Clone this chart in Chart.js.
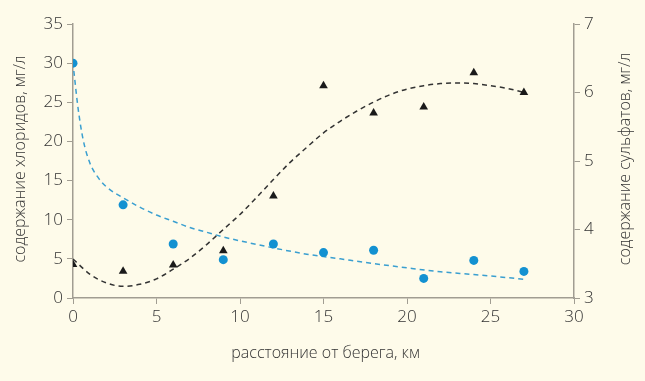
<!DOCTYPE html>
<html>
<head>
<meta charset="utf-8">
<script src="https://cdn.jsdelivr.net/npm/chart.js@4"></script>
<style>
  html, body { margin: 0; padding: 0; background: #fefbea; }
  #wrap { width: 645px; height: 381px; position: relative; }
</style>
</head>
<body>
<div id="wrap"><canvas id="c" width="645" height="381"></canvas></div>
<script>
// Measured distances (km)
const distances = [0, 3, 6, 9, 12, 15, 18, 21, 24, 27];
// Chloride content, mg/l (left axis)
const chlorides = [30, 11.9, 6.9, 4.9, 6.9, 5.8, 6.1, 2.5, 4.8, 3.4];
// Sulfate content, mg/l (right axis)
const sulfates = [3.49, 3.39, 3.48, 3.69, 4.49, 6.1, 5.7, 5.79, 6.29, 6.0];

// Chloride trend line
const chlorTrendX = [0.05, 0.3, 0.6, 1, 1.5, 2, 3, 4, 5, 6, 7, 8, 9, 10, 12, 14, 16, 18, 20, 22, 24, 27];
const chlorTrendY = [29, 24.3, 20.3, 17.3, 15.4, 14.2, 12.8, 11.6, 10.6, 9.8, 9.0, 8.4, 7.8, 7.3, 6.4, 5.6, 5.0, 4.4, 3.85, 3.35, 3.0, 2.4];

// Sulfate trend line
const sulfTrendX = [0, 1, 2, 3, 4, 5, 6, 7, 8, 9, 10, 11, 12, 13, 14, 15, 16, 17, 18, 19, 20, 21, 22, 23, 24, 25, 26, 27];
const sulfTrendY = [3.57, 3.35, 3.22, 3.17, 3.2, 3.28, 3.42, 3.58, 3.78, 4.0, 4.22, 4.47, 4.73, 4.98, 5.2, 5.41, 5.58, 5.73, 5.86, 5.97, 6.05, 6.1, 6.13, 6.14, 6.13, 6.1, 6.06, 6.0];

// Axis ticks / titles
const xTicks = [0, 5, 10, 15, 20, 25, 30];
const yLeftTicks = [0, 5, 10, 15, 20, 25, 30, 35];
const yRightTicks = [3, 4, 5, 6, 7];
const xTitle = 'расстояние от берега, км';
const yLeftTitle = 'содержание хлоридов, мг/л';
const yRightTitle = 'содержание сульфатов, мг/л';

const pts = (xs, ys) => xs.map((x, i) => ({x: x, y: ys[i]}));

const FONT = '"Open Sans", "Noto Sans", sans-serif';
const TXT = '#333333';
const AXIS = '#a19d92';
const BLUE = '#1391d1';
const BLUE_LINE = '#3a9fd0';

const bg = {
  id: 'bg',
  beforeDraw(chart) {
    const c = chart.ctx;
    c.save();
    c.fillStyle = '#fefbea';
    c.fillRect(0, 0, chart.width, chart.height);
    c.restore();
  }
};

const titles = {
  id: 'titles',
  afterDraw(chart) {
    const c = chart.ctx;
    const a = chart.chartArea;
    const f = '300 16px ' + FONT;
    c.save();
    c.fillStyle = TXT;
    c.font = f;
    c.textAlign = 'center';
    c.textBaseline = 'middle';
    c.fillText(xTitle, (a.left + a.right) / 2 + 2, 353);
    c.translate(20, (a.top + a.bottom) / 2 - 2);
    c.rotate(-Math.PI / 2);
    c.fillText(yLeftTitle, 0, 0);
    c.restore();
    c.save();
    c.fillStyle = TXT;
    c.font = f;
    c.textAlign = 'center';
    c.textBaseline = 'middle';
    c.translate(625, (a.top + a.bottom) / 2 - 2);
    c.rotate(-Math.PI / 2);
    c.fillText(yRightTitle, 0, 0);
    c.restore();
  }
};

const tickFont = { family: FONT, size: 17, weight: 300 };

new Chart(document.getElementById('c'), {
  type: 'scatter',
  data: {
    datasets: [
      {
        data: pts(chlorTrendX, chlorTrendY),
        showLine: true,
        borderColor: BLUE_LINE,
        borderWidth: 1.5,
        borderDash: [5, 4],
        pointRadius: 0,
        cubicInterpolationMode: 'monotone',
        yAxisID: 'y',
        order: 3
      },
      {
        data: pts(sulfTrendX, sulfTrendY),
        showLine: true,
        borderColor: '#333333',
        borderWidth: 1.5,
        borderDash: [5, 4],
        pointRadius: 0,
        cubicInterpolationMode: 'monotone',
        yAxisID: 'y2',
        order: 2
      },
      {
        data: pts(distances, chlorides),
        pointRadius: 4.5,
        pointBackgroundColor: BLUE,
        pointBorderWidth: 0,
        borderColor: BLUE,
        yAxisID: 'y',
        order: 1
      },
      {
        data: pts(distances, sulfates),
        pointStyle: 'triangle',
        pointRadius: 5,
        pointBackgroundColor: '#1a1a1a',
        pointBorderWidth: 0,
        borderColor: '#1a1a1a',
        yAxisID: 'y2',
        order: 0
      }
    ]
  },
  options: {
    responsive: false,
    animation: false,
    devicePixelRatio: 1,
    layout: { padding: { top: 24, left: 0, right: 0, bottom: 0 } },
    plugins: { legend: { display: false }, tooltip: { enabled: false } },
    scales: {
      x: {
        type: 'linear',
        min: 0, max: 30,
        afterBuildTicks(s) { s.ticks = xTicks.map(v => ({value: v})); },
        afterFit(s) { s.height = 83; },
        grid: { drawOnChartArea: false, tickLength: 6, color: AXIS },
        border: { display: true, color: AXIS, width: 1.5 },
        ticks: { font: tickFont, color: TXT, padding: 3, maxRotation: 0 }
      },
      y: {
        position: 'left',
        min: 0, max: 35,
        afterBuildTicks(s) { s.ticks = yLeftTicks.map(v => ({value: v})); },
        afterFit(s) { s.width = 73; },
        grid: { drawOnChartArea: false, tickLength: 6, color: AXIS },
        border: { display: true, color: AXIS, width: 1.5 },
        ticks: { font: tickFont, color: TXT, padding: 4 }
      },
      y2: {
        position: 'right',
        min: 3, max: 7,
        afterBuildTicks(s) { s.ticks = yRightTicks.map(v => ({value: v})); },
        afterFit(s) { s.width = 71; },
        grid: { drawOnChartArea: false, tickLength: 6, color: AXIS },
        border: { display: true, color: AXIS, width: 1.5 },
        ticks: { font: tickFont, color: TXT, padding: 4 }
      }
    }
  },
  plugins: [bg, titles]
});
</script>
</body>
</html>
